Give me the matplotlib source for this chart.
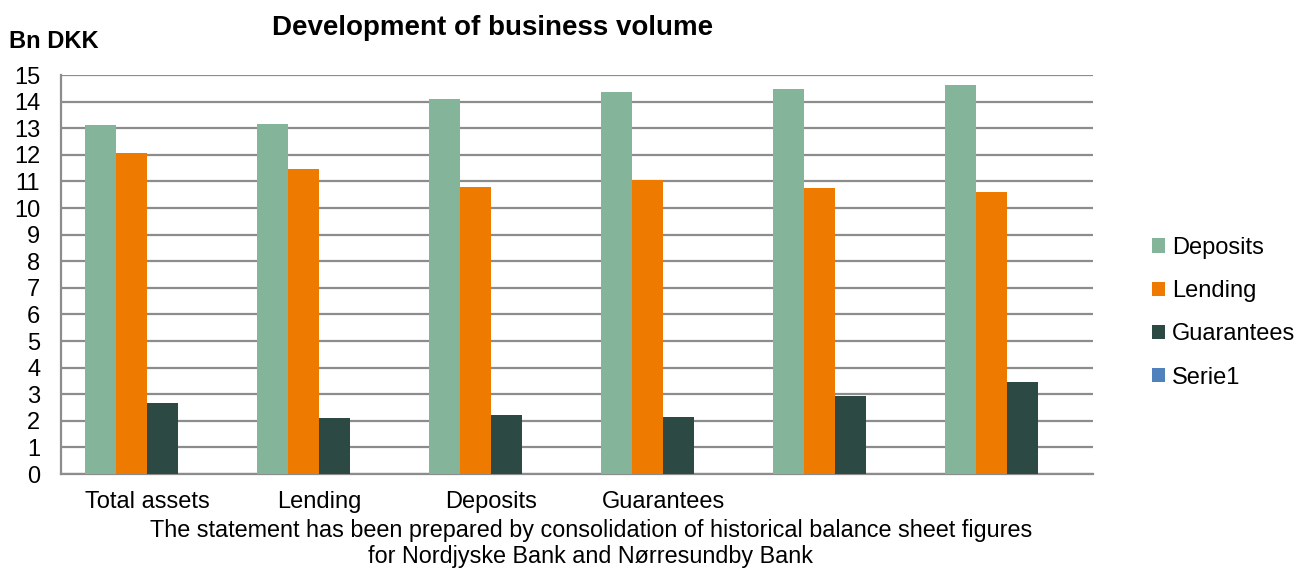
import numpy as np
import matplotlib.pyplot as plt
from matplotlib.patches import Patch

# values (Bn DKK), six periods
deposits = [13.12, 13.15, 14.08, 14.36, 14.46, 14.61]
lending = [12.08, 11.48, 10.79, 11.05, 10.75, 10.60]
guarantees = [2.68, 2.09, 2.22, 2.14, 2.94, 3.45]
serie1 = [0, 0, 0, 0, 0, 0]

series_names = ['Deposits', 'Lending', 'Guarantees', 'Serie1']
series_colors = ['#84b59a', '#ee7b00', '#2c4a43', '#4f81bd']
tick_labels = ['Total assets', 'Lending', 'Deposits', 'Guarantees', '', '']

plt.rcParams['font.family'] = ['Liberation Sans', 'DejaVu Sans']

fig = plt.figure(figsize=(13.1, 5.74), dpi=100)
ax = fig.add_axes([0.0466, 0.1742, 0.7878, 0.6951])

x = np.arange(len(deposits))
w = 0.18
data = [deposits, lending, guarantees, serie1]
for i, (vals, col) in enumerate(zip(data, series_colors)):
    ax.bar(x + (i - 1.5) * w, vals, width=w, color=col, zorder=3)

ax.set_xlim(-0.5, len(x) - 0.5)
ax.set_ylim(0, 15)
ax.set_yticks(range(0, 16))
ax.tick_params(axis='y', length=0, labelsize=17, pad=15)
ax.yaxis.grid(True, color='#8c8c8c', linewidth=1.6, zorder=0)

ax.set_xticks(x)
ax.set_xticklabels(tick_labels, fontsize=17)
ax.tick_params(axis='x', length=0, pad=12)

for s in ['top', 'right']:
    ax.spines[s].set_visible(False)
for s in ['left', 'bottom']:
    ax.spines[s].set_color('#8c8c8c')
    ax.spines[s].set_linewidth(1.6)

fig.text(0.376, 0.952, 'Development of business volume', fontsize=20,
         fontweight='bold', ha='center', va='center')
fig.text(0.007, 0.928, 'Bn DKK', fontsize=17, fontweight='bold',
         ha='left', va='center')

fig.text(0.451, 0.053, 'The statement has been prepared by consolidation of historical balance sheet figures\n'
         'for Nordjyske Bank and Nørresundby Bank', fontsize=16.8,
         ha='center', va='center', linespacing=1.2)

handles = [Patch(facecolor=c, edgecolor='none') for c in series_colors]
fig.legend(handles, series_names, loc='center left', bbox_to_anchor=(0.872, 0.455),
           frameon=False, fontsize=17, handlelength=0.55, handleheight=0.55,
           handletextpad=0.3, labelspacing=0.9, borderaxespad=0)

fig.savefig('out.png', dpi=100)
